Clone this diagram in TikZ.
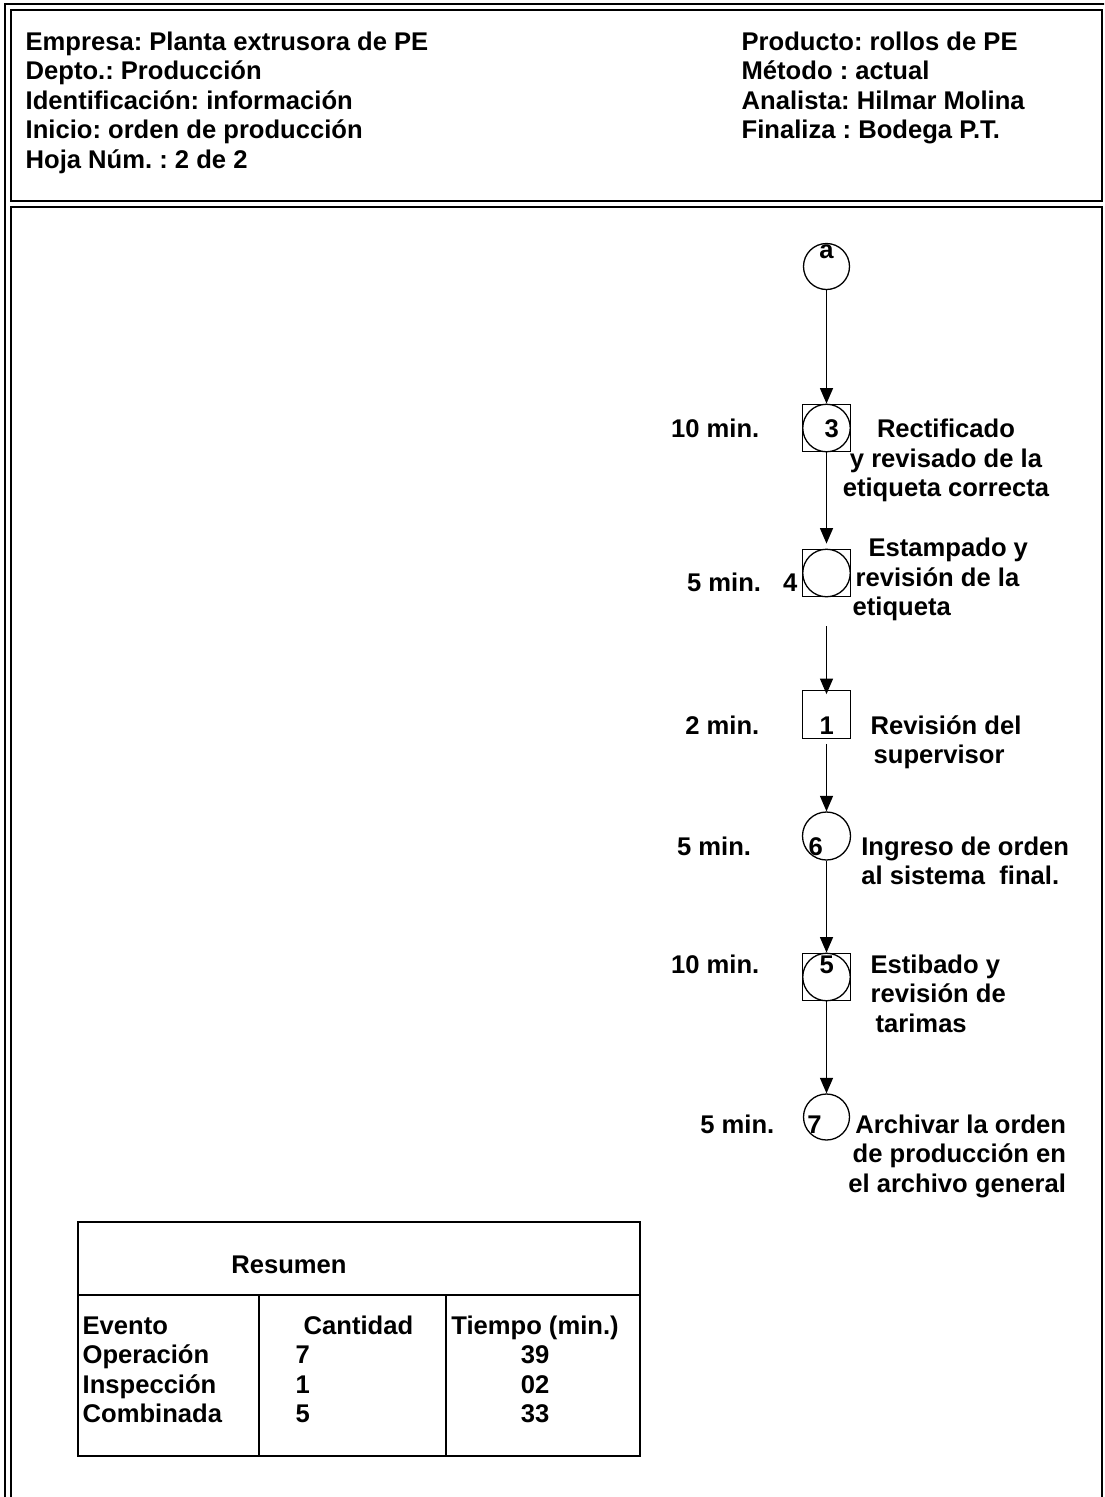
\documentclass[tikz,border=0pt]{standalone}
\usepackage{fontspec}
\setmainfont{Liberation Sans}
\usetikzlibrary{arrows.meta}

\begin{document}
\frenchspacing
\begin{tikzpicture}[x=1pt, y=-1pt, line width=1.3pt]
        \tikzset{every node/.style={inner sep=0pt, font=\bfseries\fontsize{25.6}{29.5}\selectfont},
                 txt/.style={anchor=base west, align=left},
                 mins/.style={anchor=base east},
                 num/.style={anchor=base},
                 sq box/.style={draw, minimum size=47.5pt},
                 ring/.style={draw, circle, minimum size=#1},
                 flow/.style={-{Triangle[length=15.5pt, width=13pt]}}}
        \clip (0,0) rectangle (1104,1497);
        \draw[line width=1.6pt] (5,4) rectangle (1110,1520);
        \draw[line width=1.6pt] (11,10) rectangle (1102,201);
        \draw[line width=1.6pt] (11,207) rectangle (1102,1520);
        \node[txt] (empresa) at (25,168) {Empresa: Planta extrusora de PE\\Depto.: Producción\\Identificación: información\\Inicio: orden de producción\\Hoja Núm. : 2 de 2};
        \node[txt] (producto) at (741,138.5) {Producto: rollos de PE\\Método : actual\\Analista: Hilmar Molina\\Finaliza : Bodega P.T.};

        \node[ring=46pt] (a) at (826.5,266.5) {};
        \node[num] (ka) at (826.5,258.5) {a};
        \node[sq box] (n3) at (826.5,428) {};
        \node[ring=47.5pt] (c3) at (n3) {};
        \node[sq box] (n4) at (826.5,573) {};
        \node[ring=47.5pt] (c4) at (n4) {};
        \node[sq box] (n1) at (826.5,714.5) {};
        \node[ring=48pt] (n6) at (826.5,836) {};
        \node[sq box] (n5) at (826.5,977) {};
        \node[ring=47.5pt] (c5) at (n5) {};
        \node[ring=46pt] (n7) at (826.5,1117) {};
        \coordinate (g4) at ([yshift=-29pt]n4.south);
        \draw[flow] (a) -- (n3);
        \draw[flow, shorten >=5pt] (n3) -- (n4);
        \draw[flow, shorten >=-4pt] (g4) -- (n1);
        \draw[flow, shorten <=5pt] (n1) -- (n6);
        \draw[flow] (n6) -- (n5);
        \draw[flow] (n5) -- (n7);

        \node[num] (k3) at (831.7,437.7) {3};
        \node[num, anchor=base east] (k4) at (798,591.7) {4};
        \node[num] (k1) at (826.7,734) {1};
        \node[num, anchor=base west] (k6) at (808,855) {6};
        \node[num] (k5) at (826.7,973.3) {5};
        \node[num, anchor=base west] (k7) at (806.7,1133) {7};

        \node[mins] (m3) at (760,437.7) {10 min.};
        \node[mins] (m4) at (761.7,591.7) {5 min.};
        \node[mins] (m1) at (760,734) {2 min.};
        \node[mins] (m6) at (751.7,855) {5 min.};
        \node[mins] (m5) at (760,973.3) {10 min.};
        \node[mins] (m7) at (775,1133) {5 min.};

        \node[anchor=base, align=center] (t3) at (946,496.7) {Rectificado\\y revisado de la\\etiqueta correcta};
        \node[txt] (t4) at (852,615.7) {\hspace*{16pt}Estampado y\\\hspace*{3pt}revisión de la\\etiqueta};
        \node[txt] (t1) at (870,763.5) {Revisión del\\\hspace*{3pt}supervisor};
        \node[txt] (t6) at (860.7,884.5) {Ingreso de orden\\al sistema \ final.};
        \node[txt] (t5) at (870,1032.3) {Estibado y\\revisión de\\\hspace*{5pt}tarimas};
        \node[anchor=base east, align=right] (t7) at (1066.7,1192) {Archivar la orden\\de producción en\\el archivo general};

        \draw (78,1222) rectangle (640,1456);
        \draw (78,1295) -- (640,1295);
        \draw (259,1295) -- (259,1456);
        \draw (446,1295) -- (446,1456);
        \node[anchor=base] (resumen) at (289,1273) {Resumen};
        \node[txt] (evento) at (82,1422.5) {Evento\\Operación\\Inspección\\Combinada};
        \node[txt] (cantidad) at (295,1422.5) {\hspace*{8pt}Cantidad\\7\\1\\5};
        \node[anchor=base, align=center] (tiempo) at (535,1422.5) {Tiempo (min.)\\39\\02\\33};
\end{tikzpicture}
\end{document}
